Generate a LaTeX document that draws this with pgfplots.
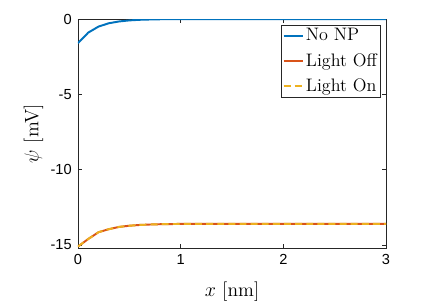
\documentclass[border=0pt]{standalone}
\usepackage{pgfplots}
\pgfplotsset{compat=1.18}
\usepackage{fontspec}
\newfontfamily\helv{Liberation Sans}
\definecolor{mblue}{rgb}{0,0.447,0.741}
\definecolor{morange}{rgb}{0.85,0.325,0.098}
\definecolor{myellow}{rgb}{0.929,0.694,0.125}
\definecolor{axgray}{rgb}{0.15,0.15,0.15}
\begin{document}
\begin{tikzpicture}
\begin{axis}[
  name=ax,
  scale only axis,
  width=221.6pt, height=164.7pt,
  xmin=0, xmax=3, ymin=-15.2, ymax=0,
  xtick={0,1,2,3}, ytick={-15,-10,-5,0},
  tick align=inside,
  major tick length=3pt,
  axis line style={axgray, line width=0.5pt},
  tick style={axgray, line width=0.5pt},
  /pgf/number format/assume math mode=true,
  tick label style={font=\helv\fontsize{10.5}{12}\selectfont, text=black},
  xticklabel style={yshift=-1pt},
  yticklabel style={xshift=-1pt},
  every axis x label/.style={at={(axis description cs:0.5,0)}, anchor=center, yshift=-31.7pt},
  every axis y label/.style={at={(axis description cs:0,0.5)}, anchor=center, xshift=-32pt, rotate=90},
  label style={font=\fontsize{14}{16}\selectfont},
  xlabel={$x$ [nm]},
  ylabel={$\psi$ [mV]},
  legend style={at={(0.983,0.975)}, anchor=north east, draw=axgray, line width=0.5pt,
    font=\fontsize{13}{15}\selectfont, inner sep=1pt, row sep=4.5pt,
    nodes={inner sep=1.5pt}},
  legend cell align=left,
  legend image code/.code={\draw[#1, line width=1.2pt] (0pt,0pt) -- (14pt,0pt);},
]
\addplot[mblue, line width=1.4pt] coordinates {
(0,-1.6) (0.1,-0.9) (0.2,-0.5) (0.3,-0.28) (0.4,-0.16) (0.5,-0.09) (0.6,-0.05)
(0.7,-0.03) (0.8,-0.015) (0.9,-0.008) (1.0,-0.004) (1.5,0) (2,0) (3,0)};
\addlegendentry{No NP}
\addplot[morange, line width=1.4pt] coordinates {
(0,-15.1) (0.1,-14.6) (0.2,-14.15) (0.3,-13.95) (0.4,-13.8) (0.5,-13.72) (0.6,-13.67)
(0.7,-13.64) (0.8,-13.62) (1.0,-13.6) (1.5,-13.6) (2,-13.6) (3,-13.6)};
\addlegendentry{Light Off}
\addplot[myellow, line width=1.4pt, dash pattern=on 5pt off 3pt] coordinates {
(0,-15.1) (0.1,-14.6) (0.2,-14.15) (0.3,-13.95) (0.4,-13.8) (0.5,-13.72) (0.6,-13.67)
(0.7,-13.64) (0.8,-13.62) (1.0,-13.6) (1.5,-13.6) (2,-13.6) (3,-13.6)};
\addlegendentry{Light On}
\end{axis}
\pgfresetboundingbox
\path ([xshift=-56.1pt,yshift=-41.7pt]ax.south west) rectangle ([xshift=38.8pt,yshift=13.7pt]ax.north east);
\end{tikzpicture}
\end{document}
